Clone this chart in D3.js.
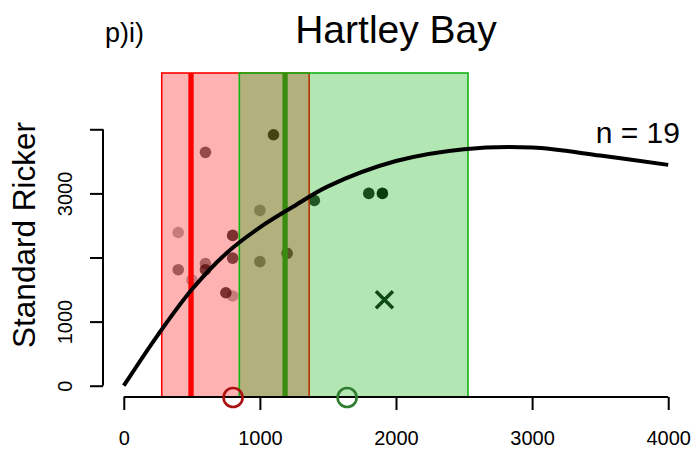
<!DOCTYPE html>
<html>
<head>
<meta charset="utf-8">
<script src="https://cdn.jsdelivr.net/npm/d3@7"></script>
<style>
  body { margin: 0; background: #fff; }
  svg { display: block; font-family: "Liberation Sans", Arial, Helvetica, sans-serif; }
</style>
</head>
<body>
<div id="chart"></div>
<script>
// spawners / recruits
var spawners = [400, 800, 400, 600, 600, 800, 500, 750, 800, 1000, 600, 1000, 1400, 1800, 1900, 1100, 1200];
var recruits = [2390, 2345, 1810, 1905, 1810, 1990, 1650, 1450, 1400, 1935, 3640, 2735, 2890, 3000, 3000, 3915, 2065];
// how dark each point is (0..1)
var shade = [0.31, 0.72, 0.5, 0.45, 0.7, 0.66, 0.3, 0.72, 0.3, 0.48, 0.58, 0.39, 0.8, 0.86, 0.95, 0.87, 0.7];

// fitted curve
var curveS = [0, 250, 500, 750, 1000, 1250, 1500, 2000, 2500, 3000, 3500, 4000];
var curveR = [0, 790, 1500, 2060, 2470, 2800, 3110, 3505, 3690, 3715, 3590, 3445];

// intervals (red = first model, green = second)
var redBand = [279, 1362];
var redMid = 494;
var greenBand = [849, 2529];
var greenMid = 1185;
var redOpen = 803;
var greenOpen = 1641;
var crossPoint = [1915, 1340];

var xTicks = [0, 1000, 2000, 3000, 4000];
var yTicks = [0, 1000, 2000, 3000, 4000];
var yTickLabels = ["0", "1000", "", "3000", ""];

var title = "Hartley Bay";
var panel = "p)i)";
var yTitle = "Standard Ricker";
var nLabel = "n = 19";

var width = 693, height = 453;
var svg = d3.select("#chart").append("svg")
  .attr("width", width)
  .attr("height", height);

var x = d3.scaleLinear().domain([-160, 4160]).range([102, 690]);
var y = d3.scaleLinear().domain([-176, 4878]).range([397, 73]);

var plotTop = y.range()[1], plotBottom = y.range()[0];

// points first, bands are drawn over them
svg.selectAll(".pt")
  .data(spawners)
  .enter().append("circle")
  .attr("class", "pt")
  .attr("cx", function (d) { return x(d); })
  .attr("cy", function (d, i) { return y(recruits[i]); })
  .attr("r", 5.8)
  .attr("fill", "#000")
  .attr("fill-opacity", function (d, i) { return shade[i]; });

svg.append("rect")
  .attr("x", x(redBand[0]))
  .attr("y", plotTop)
  .attr("width", x(redBand[1]) - x(redBand[0]))
  .attr("height", plotBottom - plotTop)
  .attr("fill", "rgba(255,0,0,0.3)")
  .attr("stroke", "#ff0000")
  .attr("stroke-width", 1.6);

svg.append("rect")
  .attr("x", x(greenBand[0]))
  .attr("y", plotTop)
  .attr("width", x(greenBand[1]) - x(greenBand[0]))
  .attr("height", plotBottom - plotTop)
  .attr("fill", "rgba(0,172,0,0.3)")
  .attr("stroke", "#12b412")
  .attr("stroke-width", 1.6);

svg.append("line")
  .attr("x1", x(redMid)).attr("x2", x(redMid))
  .attr("y1", plotTop).attr("y2", plotBottom)
  .attr("stroke", "#ff0000")
  .attr("stroke-width", 5.3);

svg.append("line")
  .attr("x1", x(greenMid)).attr("x2", x(greenMid))
  .attr("y1", plotTop).attr("y2", plotBottom)
  .attr("stroke", "#3a8c10")
  .attr("stroke-width", 5.3);

var line = d3.line()
  .x(function (d) { return x(d); })
  .y(function (d, i) { return y(curveR[i]); })
  .curve(d3.curveCatmullRom.alpha(0.5));

svg.append("path")
  .datum(curveS)
  .attr("d", line)
  .attr("fill", "none")
  .attr("stroke", "#000")
  .attr("stroke-width", 4);

// cross
var cx = x(crossPoint[0]), cy = y(crossPoint[1]), s = 8.5;
svg.append("path")
  .attr("d", "M" + (cx - s) + "," + (cy - s) + "L" + (cx + s) + "," + (cy + s) +
             "M" + (cx - s) + "," + (cy + s) + "L" + (cx + s) + "," + (cy - s))
  .attr("stroke", "#0f4a14")
  .attr("stroke-width", 3.5)
  .attr("fill", "none");

// axes
var xAxis = d3.axisBottom(x).tickValues(xTicks).tickSize(13).tickSizeOuter(0)
  .tickFormat(d3.format("d"));
var gx = svg.append("g")
  .attr("transform", "translate(0," + plotBottom + ")")
  .call(xAxis);
gx.select(".domain").remove();
gx.append("line")
  .attr("x1", x(xTicks[0])).attr("x2", x(xTicks[xTicks.length - 1]))
  .attr("stroke", "#000").attr("stroke-width", 2);
gx.selectAll(".tick line").attr("stroke-width", 2);
gx.selectAll(".tick text")
  .attr("y", 48).attr("dy", 0)
  .attr("fill", "#000")
  .style("font-size", "20px")
  .style("font-family", "'Liberation Sans', Arial, sans-serif");

var yAxis = d3.axisLeft(y).tickValues(yTicks).tickSize(13).tickSizeOuter(0)
  .tickFormat(function (d, i) { return yTickLabels[i]; });
var gy = svg.append("g")
  .attr("transform", "translate(103,0)")
  .call(yAxis);
gy.select(".domain").remove();
gy.append("line")
  .attr("y1", y(yTicks[0])).attr("y2", y(yTicks[yTicks.length - 1]))
  .attr("stroke", "#000").attr("stroke-width", 2);
gy.selectAll(".tick line").attr("stroke-width", 2);
gy.selectAll(".tick text")
  .attr("transform", "rotate(-90)")
  .attr("x", 0).attr("y", -31).attr("dy", 0)
  .attr("text-anchor", "middle")
  .attr("fill", "#000")
  .style("font-size", "20px")
  .style("font-family", "'Liberation Sans', Arial, sans-serif");

// open circles on the axis
svg.append("circle")
  .attr("cx", x(redOpen)).attr("cy", plotBottom + 0.5)
  .attr("r", 9.5)
  .attr("fill", "none")
  .attr("stroke", "#aa1111")
  .attr("stroke-width", 2.6);
svg.append("circle")
  .attr("cx", x(greenOpen)).attr("cy", plotBottom + 0.5)
  .attr("r", 9.5)
  .attr("fill", "none")
  .attr("stroke", "#2e7d2e")
  .attr("stroke-width", 2.6);

// texts
svg.append("text")
  .attr("x", (x.range()[0] + x.range()[1]) / 2)
  .attr("y", 42.5)
  .attr("text-anchor", "middle")
  .style("font-size", "39px")
  .text(title);

svg.append("text")
  .attr("x", 105)
  .attr("y", 42)
  .style("font-size", "27px")
  .text(panel);

svg.append("text")
  .attr("transform", "translate(35," + ((plotTop + plotBottom) / 2) + ") rotate(-90)")
  .attr("text-anchor", "middle")
  .style("font-size", "31.5px")
  .text(yTitle);

svg.append("text")
  .attr("x", 680)
  .attr("y", 143)
  .attr("text-anchor", "end")
  .style("font-size", "30px")
  .text(nLabel);
</script>
</body>
</html>
